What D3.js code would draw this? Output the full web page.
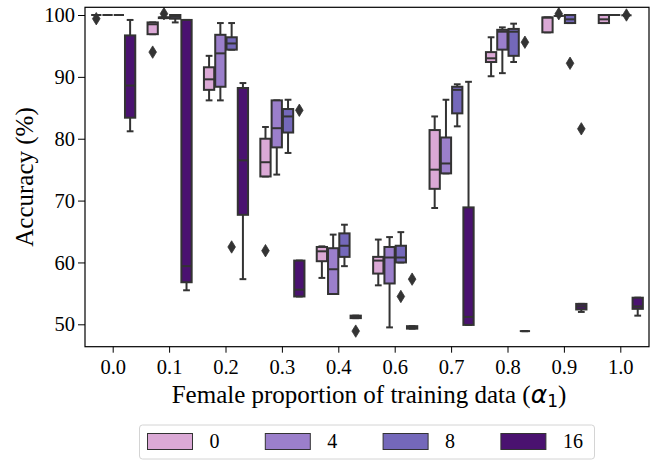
<!DOCTYPE html>
<html>
<head>
<meta charset="utf-8">
<script src="https://cdn.jsdelivr.net/npm/d3@7"></script>
<style>
  html, body { margin: 0; padding: 0; background: #fff; }
  svg { display: block; }
  text { font-family: "Liberation Serif", "Times New Roman", serif; fill: #000; }
</style>
</head>
<body>
<svg id="chart" width="660" height="464"></svg>
<script>
// ---- data ----
const categories = ["0.0", "0.1", "0.2", "0.3", "0.4", "0.6", "0.7", "0.8", "0.9", "1.0"];
const hueLevels = ["0", "4", "8", "16"];
const hueColors = ["#dba9d6", "#9b7fcb", "#7468ba", "#4a1270"];
const yTicks = [50, 60, 70, 80, 90, 100];

// each entry: [whiskerLow, q1, median, q3, whiskerHigh] per category
const stats0 = [
  [100, 100, 100, 100, 100],
  [96.9, 96.9, 98.5, 98.8, 98.8],
  [86.2, 87.9, 89.6, 91.55, 93.4],
  [73.9, 73.9, 76.2, 80.0, 81.9],
  [57.5, 60.2, 61.8, 62.5, 62.6],
  [56.3, 58.2, 60.3, 60.9, 63.7],
  [68.8, 71.9, 75.0, 81.4, 83.6],
  [90.1, 92.4, 93.0, 94.0, 96.4],
  [97.2, 97.2, 99.6, 99.6, 99.6],
  [98.7, 98.7, 99.3, 100, 100]
];
const stats4 = [
  [100, 100, 100, 100, 100],
  [99.5, 99.5, 99.6, 99.6, 99.6],
  [86.2, 88.4, 93.8, 96.8, 98.7],
  [74.2, 78.6, 81.7, 86.2, 86.2],
  [54.9, 54.9, 58.9, 62.3, 64.5],
  [49.5, 56.6, 60.8, 62.5, 64.1],
  [74.4, 74.4, 76.0, 80.2, 86.3],
  [90.6, 94.4, 97.3, 97.6, 98.0],
  [99.85, 99.85, 99.85, 99.85, 99.85],
  [100, 100, 100, 100, 100]
];
const stats8 = [
  [100, 100, 100, 100, 100],
  [98.8, 99.4, 99.7, 100, 100],
  [94.4, 94.4, 95.4, 96.4, 98.7],
  [77.7, 81.0, 83.6, 84.8, 86.3],
  [59.4, 60.9, 62.7, 64.7, 66.1],
  [60.0, 60.0, 60.8, 62.7, 64.9],
  [82.0, 84.1, 87.9, 88.4, 88.8],
  [92.4, 93.4, 97.3, 97.75, 98.6],
  [98.7, 98.7, 99.3, 100, 100],
  [99.95, 99.95, 99.95, 99.95, 99.95]
];
const stats16 = [
  [81.2, 83.4, 88.6, 96.7, 99.2],
  [55.5, 56.8, 59.4, 99.2, 99.2],
  [57.3, 67.7, 76.5, 88.2, 89.0],
  [54.5, 54.5, 55.6, 60.3, 60.3],
  [51.0, 51.0, 51.2, 51.4, 51.4],
  [49.3, 49.3, 49.5, 49.7, 49.7],
  [49.9, 49.9, 51.2, 68.9, 89.2],
  [48.9, 48.9, 48.9, 48.9, 48.9],
  [52.0, 52.4, 52.9, 53.3, 53.3],
  [51.4, 52.5, 52.9, 54.3, 54.3]
];
// outliers per category
const outliers0 = [[99.4], [94.0], [], [61.9], [], [], [], [], [], []];
const outliers4 = [[], [100.2], [], [], [], [], [], [], [100.2], []];
const outliers8 = [[], [], [62.5], [], [], [54.5], [], [], [92.2], [100.0]];
const outliers16 = [[], [], [], [84.6], [48.9], [57.3], [], [95.6], [81.6], []];

const allStats = [stats0, stats4, stats8, stats16];
const allOutliers = [outliers0, outliers4, outliers8, outliers16];

// ---- layout ----
const svg = d3.select("#chart");
const plot = { left: 85, right: 649, top: 7.3, bottom: 346.7 };
const edge = "#333333";

const x = d3.scaleBand().domain(categories).range([plot.left, plot.right]).padding(0);
const y = d3.scaleLinear().domain([46.38, 101.245]).range([plot.bottom, plot.top]);

const bw = x.bandwidth();
const boxW = bw * 0.8 / hueLevels.length;
const hueOffset = i => (i - (hueLevels.length - 1) / 2) * boxW;

// axes
const yAxis = d3.axisLeft(y).tickValues(yTicks).tickSize(7).tickPadding(3);
const gy = svg.append("g").attr("transform", `translate(${plot.left},0)`).call(yAxis);
gy.select(".domain").remove();
gy.selectAll(".tick line").attr("stroke", "#000").attr("stroke-width", 1);
gy.selectAll(".tick text").attr("font-size", 20.5).attr("font-family", "Liberation Serif");

const xAxis = d3.axisBottom(x).tickSize(6).tickPadding(7);
const gx = svg.append("g").attr("transform", `translate(0,${plot.bottom})`).call(xAxis);
gx.select(".domain").remove();
gx.selectAll(".tick line").attr("stroke", "#000").attr("stroke-width", 1);
gx.selectAll(".tick text").attr("font-size", 20.5).attr("font-family", "Liberation Serif");

// boxes
const gBoxes = svg.append("g");
allStats.forEach((stats, h) => {
  stats.forEach((s, c) => {
    const cx = x(categories[c]) + bw / 2 + hueOffset(h);
    const [lo, q1, med, q3, hi] = s;
    const g = gBoxes.append("g");
    const capW = boxW * 0.6;
    // whiskers
    g.append("line").attr("x1", cx).attr("x2", cx).attr("y1", y(q3)).attr("y2", y(hi))
      .attr("stroke", edge).attr("stroke-width", 2);
    g.append("line").attr("x1", cx).attr("x2", cx).attr("y1", y(q1)).attr("y2", y(lo))
      .attr("stroke", edge).attr("stroke-width", 2);
    // caps
    [lo, hi].forEach(v => {
      g.append("line").attr("x1", cx - capW / 2).attr("x2", cx + capW / 2)
        .attr("y1", y(v)).attr("y2", y(v)).attr("stroke", edge).attr("stroke-width", 2);
    });
    // box
    g.append("rect").attr("x", cx - boxW / 2 + 0.5).attr("width", boxW - 1)
      .attr("y", y(q3)).attr("height", Math.max(0, y(q1) - y(q3)))
      .attr("fill", hueColors[h]).attr("stroke", edge).attr("stroke-width", 2);
    // median
    g.append("line").attr("x1", cx - boxW / 2 + 0.5).attr("x2", cx + boxW / 2 - 0.5)
      .attr("y1", y(med)).attr("y2", y(med)).attr("stroke", edge).attr("stroke-width", 2);
    // outliers (diamonds)
    allOutliers[h][c].forEach(v => {
      const py = y(v);
      g.append("path")
        .attr("d", `M${cx},${py - 6.2}L${cx + 3.8},${py}L${cx},${py + 6.2}L${cx - 3.8},${py}Z`)
        .attr("fill", edge).attr("stroke", edge).attr("stroke-width", 0.8);
    });
  });
});

// frame
svg.append("rect").attr("x", plot.left).attr("y", plot.top)
  .attr("width", plot.right - plot.left).attr("height", plot.bottom - plot.top)
  .attr("fill", "none").attr("stroke", "#000").attr("stroke-width", 1.2);

// axis titles
svg.append("text")
  .attr("transform", `translate(24,${(plot.top + plot.bottom) / 2}) rotate(-90)`)
  .attr("text-anchor", "middle").attr("dominant-baseline", "central")
  .attr("font-size", 25).text("Accuracy (%)");

const xt = svg.append("text").attr("x", (plot.left + plot.right) / 2 + 2).attr("y", 403)
  .attr("text-anchor", "middle").attr("font-size", 25);
xt.append("tspan").text("Female proportion of training data (");
xt.append("tspan").attr("font-family", "DejaVu Sans").attr("font-style", "italic").text("α");
xt.append("tspan").attr("font-family", "DejaVu Sans").attr("font-size", 17).attr("dy", 4).text("1");
xt.append("tspan").attr("dy", -4).text(")");

// legend
const leg = svg.append("g");
leg.append("rect").attr("x", 139.5).attr("y", 425).attr("width", 455).attr("height", 34)
  .attr("rx", 3).attr("fill", "#fff").attr("stroke", "#d4d4d4").attr("stroke-width", 1);
hueLevels.forEach((lab, i) => {
  const lx = 147.5 + i * 117.8;
  leg.append("rect").attr("x", lx).attr("y", 433.5).attr("width", 45).attr("height", 16)
    .attr("fill", hueColors[i]).attr("stroke", edge).attr("stroke-width", 1);
  leg.append("text").attr("x", lx + 62).attr("y", 448).attr("font-size", 20).text(lab);
});
</script>
</body>
</html>
